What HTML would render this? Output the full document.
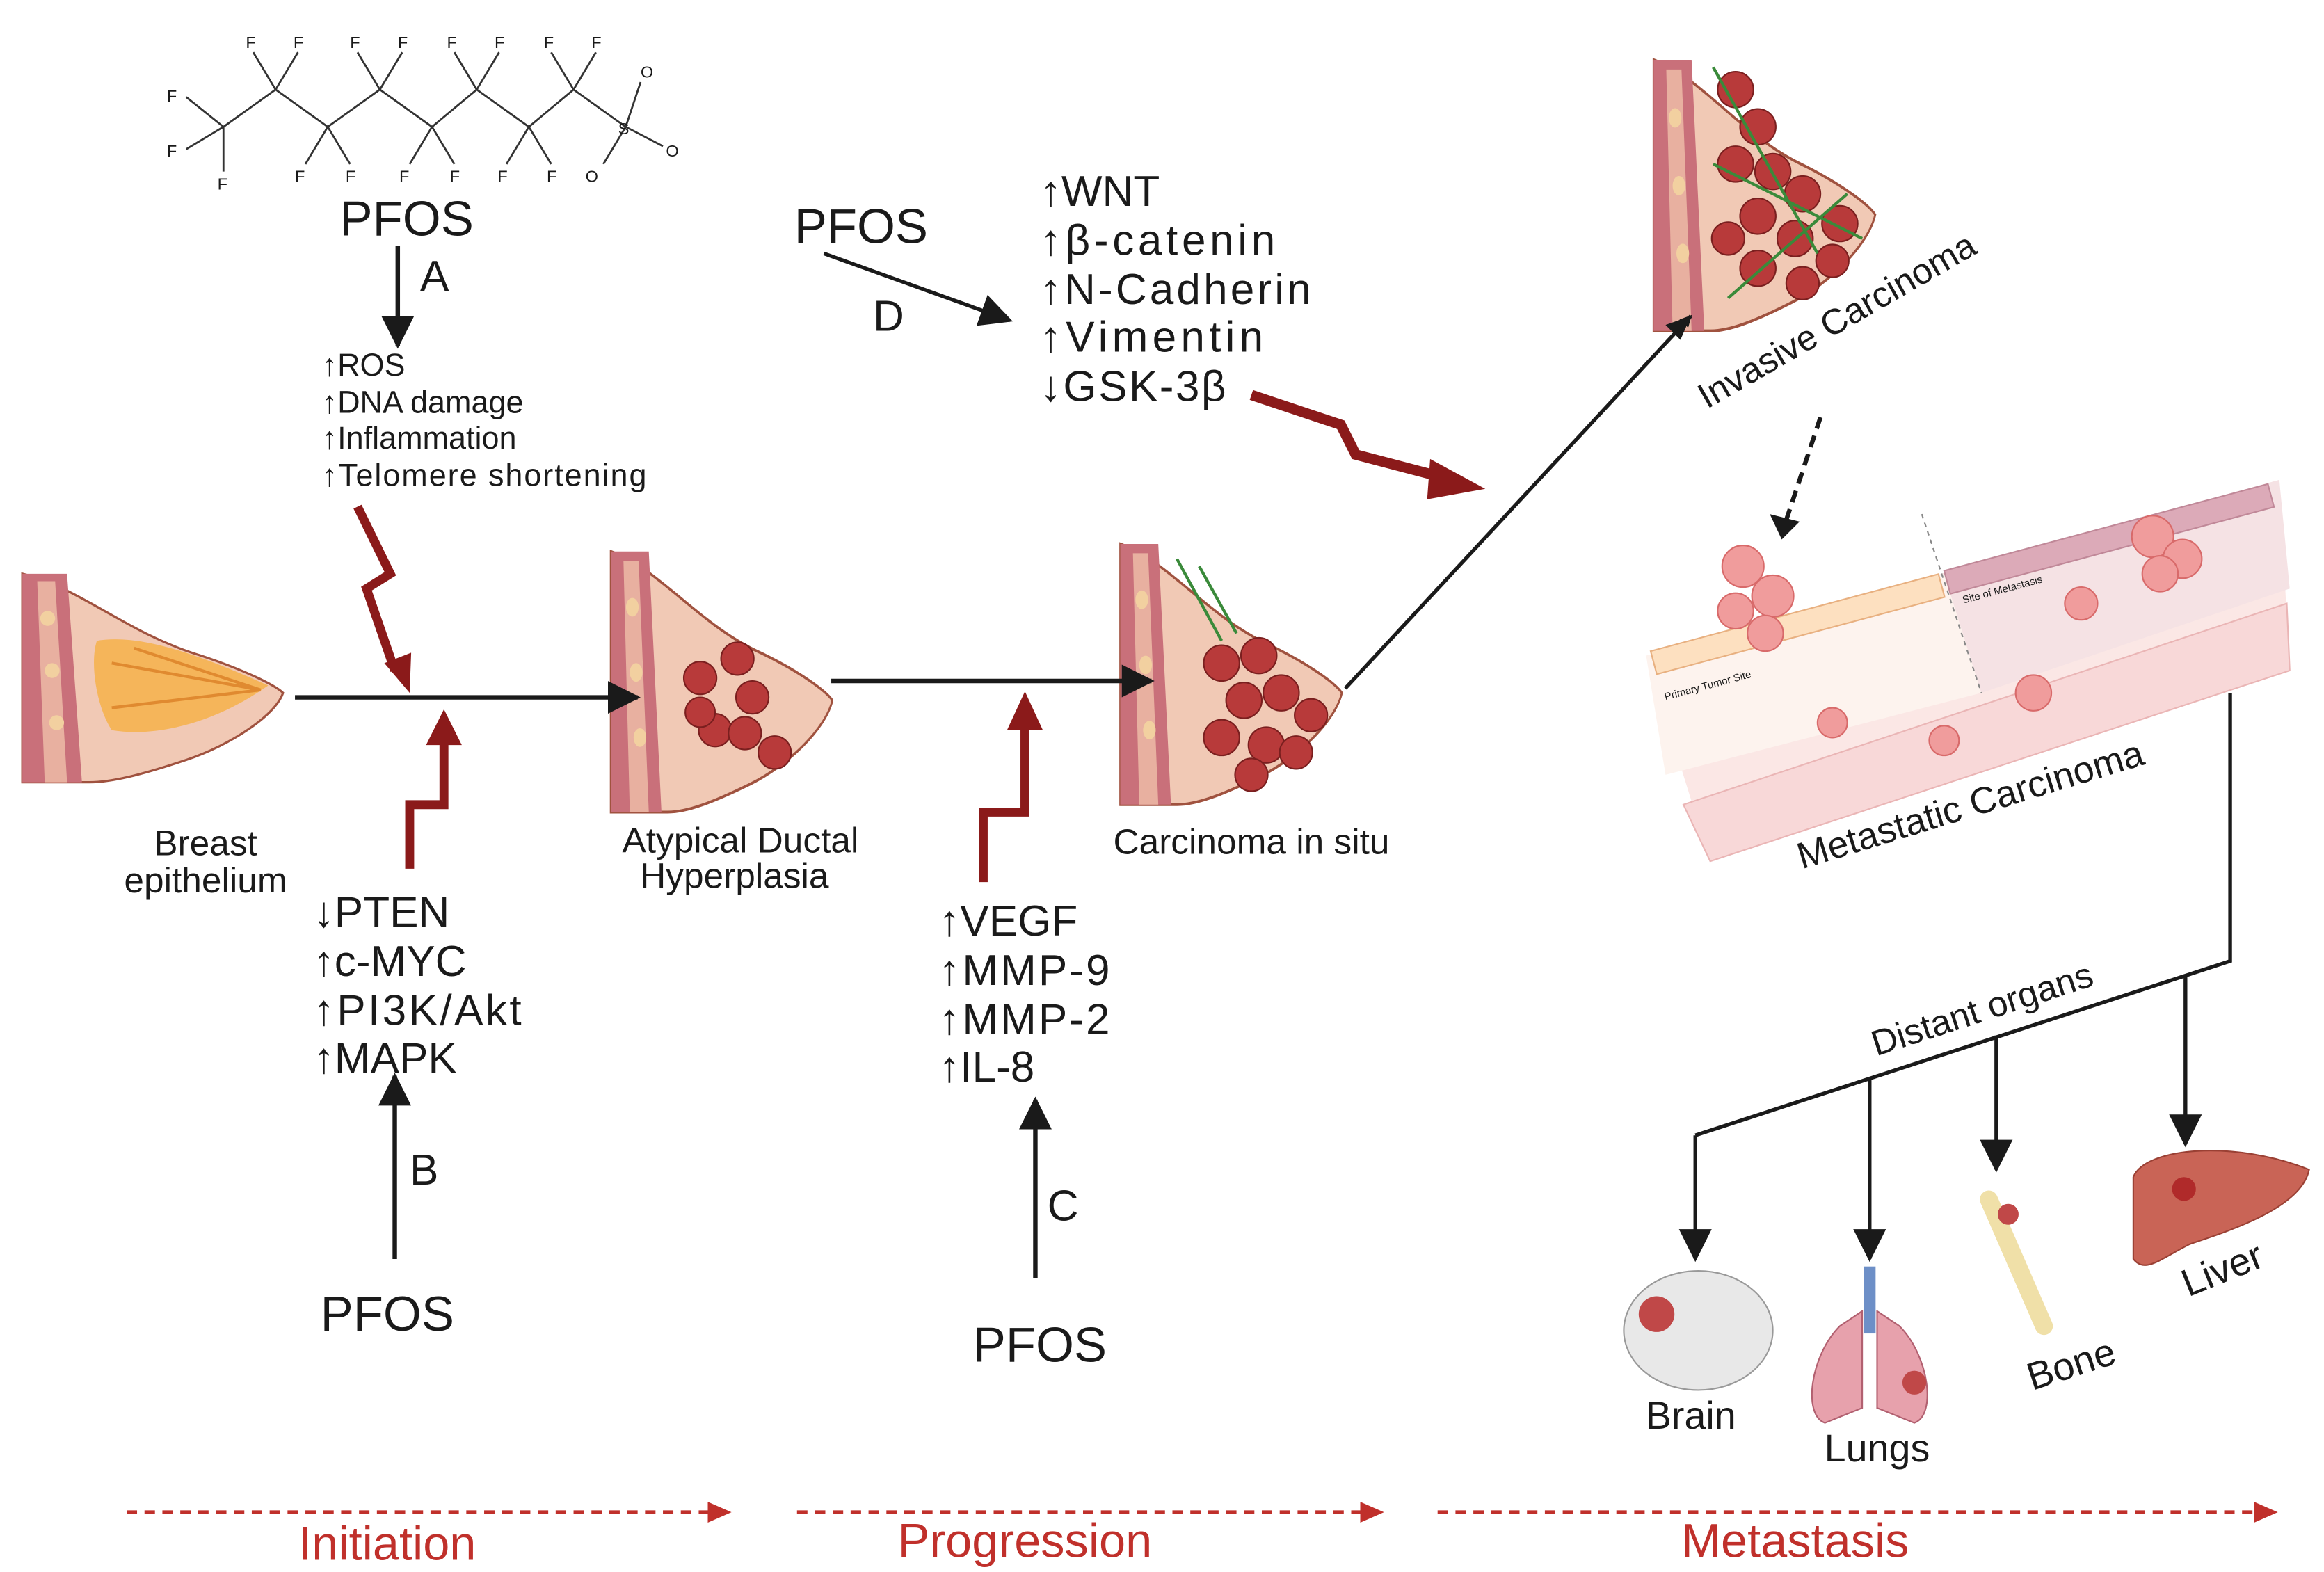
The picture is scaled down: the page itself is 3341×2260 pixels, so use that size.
<!DOCTYPE html>
<html><head><meta charset="utf-8"><style>
html,body{margin:0;padding:0;background:#fff}
svg{display:block}
text{font-family:"Liberation Sans",sans-serif;fill:#1a1a1a}
</style></head><body>
<svg width="3341" height="2260" viewBox="0 0 1560 1055" xmlns="http://www.w3.org/2000/svg">
<defs>
<marker id="ah" markerWidth="8" markerHeight="8" refX="7" refY="4" orient="auto" markerUnits="userSpaceOnUse"><path d="M0,0 L8,4 L0,8 z" fill="#1a1a1a"/></marker>
<marker id="ahb" markerWidth="22" markerHeight="22" refX="20" refY="11" orient="auto" markerUnits="userSpaceOnUse"><path d="M0,0 L22,11 L0,22 z" fill="#1a1a1a"/></marker>
<marker id="ahr" markerWidth="16" markerHeight="14" refX="15" refY="7" orient="auto" markerUnits="userSpaceOnUse"><path d="M0,0 L16,7 L0,14 z" fill="#c0302b"/></marker>
<g id="breast">
<path d="M0,0 C40,10 70,40 120,55 C150,65 170,75 175,80 C170,95 140,115 110,125 C80,135 60,140 45,140 L0,140 z" fill="#f1c9b5" stroke="#a0523f" stroke-width="1.5"/>
<path d="M0,0 L30,0 L40,140 L0,140 z" fill="#c9707a"/>
<path d="M10,5 L22,5 L30,140 L15,140 z" fill="#e8b0a0"/>
<circle cx="17" cy="30" r="5" fill="#f2d0a0"/><circle cx="20" cy="65" r="5" fill="#f2d0a0"/><circle cx="23" cy="100" r="5" fill="#f2d0a0"/>
</g>
</defs>

<!-- PFOS molecule -->
<g stroke="#333" stroke-width="1.3" fill="none">
<polyline points="150,85 185,60 220,85 255,60 290,85 320,60 355,85 385,60 420,85"/>
<line x1="150" y1="85" x2="125" y2="65"/><line x1="150" y1="85" x2="125" y2="100"/><line x1="150" y1="85" x2="150" y2="115"/>
<line x1="185" y1="60" x2="170" y2="35"/><line x1="185" y1="60" x2="200" y2="35"/>
<line x1="255" y1="60" x2="240" y2="35"/><line x1="255" y1="60" x2="270" y2="35"/>
<line x1="320" y1="60" x2="305" y2="35"/><line x1="320" y1="60" x2="335" y2="35"/>
<line x1="385" y1="60" x2="370" y2="35"/><line x1="385" y1="60" x2="400" y2="35"/>
<line x1="220" y1="85" x2="205" y2="110"/><line x1="220" y1="85" x2="235" y2="110"/>
<line x1="290" y1="85" x2="275" y2="110"/><line x1="290" y1="85" x2="305" y2="110"/>
<line x1="355" y1="85" x2="340" y2="110"/><line x1="355" y1="85" x2="370" y2="110"/>
<line x1="420" y1="85" x2="445" y2="98"/><line x1="420" y1="85" x2="430" y2="55"/><line x1="420" y1="85" x2="405" y2="110"/>
</g>
<g font-size="11" fill="#333">
<text x="112" y="68">F</text><text x="112" y="105">F</text><text x="146" y="127">F</text>
<text x="165" y="32">F</text><text x="197" y="32">F</text><text x="235" y="32">F</text><text x="267" y="32">F</text>
<text x="300" y="32">F</text><text x="332" y="32">F</text><text x="365" y="32">F</text><text x="397" y="32">F</text>
<text x="198" y="122">F</text><text x="232" y="122">F</text><text x="268" y="122">F</text><text x="302" y="122">F</text>
<text x="334" y="122">F</text><text x="367" y="122">F</text>
<text x="430" y="52">O</text><text x="447" y="105">O</text><text x="393" y="122">O</text><text x="415" y="90">S</text>
</g>

<text x="273" y="158" font-size="33" text-anchor="middle">PFOS</text>
<line x1="267" y1="165" x2="267" y2="232" stroke="#1a1a1a" stroke-width="3" marker-end="url(#ahb)"/>
<text x="282" y="195" font-size="29">A</text>
<g font-size="21"><text x="216" y="252">↑ROS</text><text x="216" y="277">↑DNA damage</text><text x="216" y="301">↑Inflammation</text><text x="216" y="326" textLength="218">↑Telomere shortening</text></g>
<path d="M240,340 L262,385 L246,395 L265,450" stroke="#8b1a1a" stroke-width="6" fill="none"/>
<path d="M258,445 L275,465 L276,438 z" fill="#8b1a1a"/>

<!-- breasts -->
<g transform="translate(15,385)"><use href="#breast"/>
<path d="M50,45 C80,40 120,55 165,75 C130,100 90,110 60,105 C50,90 45,60 50,45z" fill="#f5b55a"/>
<path d="M60,60 L160,78 M60,90 L160,78 M75,50 L160,78" stroke="#e08a30" stroke-width="2"/></g>
<g transform="translate(410,370) scale(0.85,1.25)"><use href="#breast"/></g>
<g fill="#b83a3a" stroke="#7a1f1f"><circle cx="470" cy="455" r="11"/><circle cx="495" cy="442" r="11"/><circle cx="505" cy="468" r="11"/><circle cx="480" cy="490" r="11"/><circle cx="500" cy="492" r="11"/><circle cx="520" cy="505" r="11"/><circle cx="470" cy="478" r="10"/></g>
<g transform="translate(752,365) scale(0.85,1.25)"><use href="#breast"/></g>
<g fill="#b83a3a" stroke="#7a1f1f"><circle cx="820" cy="445" r="12"/><circle cx="845" cy="440" r="12"/><circle cx="860" cy="465" r="12"/><circle cx="835" cy="470" r="12"/><circle cx="880" cy="480" r="11"/><circle cx="820" cy="495" r="12"/><circle cx="850" cy="500" r="12"/><circle cx="870" cy="505" r="11"/><circle cx="840" cy="520" r="11"/></g>
<path d="M790,375 L820,430 M805,380 L830,425" stroke="#3a8a3a" stroke-width="2"/>
<g transform="translate(1110,40) scale(0.85,1.3)"><use href="#breast"/></g>
<g fill="#b83a3a" stroke="#7a1f1f"><circle cx="1165" cy="60" r="12"/><circle cx="1180" cy="85" r="12"/><circle cx="1165" cy="110" r="12"/><circle cx="1190" cy="115" r="12"/><circle cx="1210" cy="130" r="12"/><circle cx="1235" cy="150" r="12"/><circle cx="1180" cy="145" r="12"/><circle cx="1205" cy="160" r="12"/><circle cx="1180" cy="180" r="12"/><circle cx="1210" cy="190" r="11"/><circle cx="1230" cy="175" r="11"/><circle cx="1160" cy="160" r="11"/></g>
<path d="M1150,45 L1220,170 M1160,200 L1240,130 M1150,110 L1250,160" stroke="#3a8a3a" stroke-width="2"/>

<text x="138" y="574" font-size="24" text-anchor="middle">Breast</text>
<text x="138" y="599" font-size="24" text-anchor="middle">epithelium</text>
<line x1="198" y1="468" x2="428" y2="468" stroke="#1a1a1a" stroke-width="3" marker-end="url(#ahb)"/>
<path d="M275,583 L275,540 L298,540 L298,498" stroke="#8b1a1a" stroke-width="6" fill="none"/>
<path d="M286,500 L298,476 L310,500 z" fill="#8b1a1a"/>
<g font-size="29"><text x="210" y="622">↓PTEN</text><text x="210" y="655">↑c-MYC</text><text x="210" y="688" textLength="140">↑PI3K/Akt</text><text x="210" y="720">↑MAPK</text></g>
<line x1="265" y1="845" x2="265" y2="722" stroke="#1a1a1a" stroke-width="3" marker-end="url(#ahb)"/>
<text x="275" y="795" font-size="29">B</text>
<text x="260" y="893" font-size="33" text-anchor="middle">PFOS</text>

<text x="497" y="572" font-size="24" text-anchor="middle">Atypical Ductal</text>
<text x="493" y="596" font-size="24" text-anchor="middle">Hyperplasia</text>
<line x1="558" y1="457" x2="773" y2="457" stroke="#1a1a1a" stroke-width="3" marker-end="url(#ahb)"/>
<path d="M660,592 L660,545 L688,545 L688,488" stroke="#8b1a1a" stroke-width="6" fill="none"/>
<path d="M676,490 L688,464 L700,490 z" fill="#8b1a1a"/>
<g font-size="29"><text x="630" y="628">↑VEGF</text><text x="630" y="661" textLength="115">↑MMP-9</text><text x="630" y="694" textLength="115">↑MMP-2</text><text x="630" y="726">↑IL-8</text></g>
<line x1="695" y1="858" x2="695" y2="738" stroke="#1a1a1a" stroke-width="3" marker-end="url(#ahb)"/>
<text x="703" y="819" font-size="29">C</text>
<text x="698" y="914" font-size="33" text-anchor="middle">PFOS</text>

<text x="840" y="573" font-size="24" text-anchor="middle">Carcinoma in situ</text>
<line x1="903" y1="462" x2="1135" y2="212" stroke="#1a1a1a" stroke-width="2.5" marker-end="url(#ah)"/>
<path d="M1135,212 L1118,218 L1128,228 z" fill="#1a1a1a"/>

<text x="578" y="163" font-size="33" text-anchor="middle">PFOS</text>
<line x1="553" y1="170" x2="678" y2="215" stroke="#1a1a1a" stroke-width="2.5" marker-end="url(#ahb)"/>
<text x="586" y="222" font-size="29">D</text>
<g font-size="29"><text x="698" y="138">↑WNT</text><text x="698" y="171" textLength="158">↑β-catenin</text><text x="698" y="204" textLength="182">↑N-Cadherin</text><text x="698" y="236" textLength="150">↑Vimentin</text><text x="698" y="269" textLength="125">↓GSK-3β</text></g>
<path d="M840,265 L900,285 L910,305 L975,322" stroke="#8b1a1a" stroke-width="7" fill="none"/>
<path d="M960,308 L997,328 L958,335 z" fill="#8b1a1a"/>

<text transform="translate(1237,222) rotate(-30)" font-size="24" text-anchor="middle">Invasive Carcinoma</text>
<line x1="1222" y1="280" x2="1198" y2="352" stroke="#1a1a1a" stroke-width="3" stroke-dasharray="8,5"/>
<path d="M1188,345 L1196,362 L1208,350 z" fill="#1a1a1a"/>

<!-- metastatic panel -->
<polygon points="1105,440 1530,322 1537,450 1148,578" fill="#fbe7e5"/>
<polygon points="1105,440 1305,385 1330,465 1118,520" fill="#fdf3ee"/>
<polygon points="1305,385 1530,322 1537,395 1330,465" fill="#f5e2e4"/>
<polygon points="1130,540 1535,405 1537,450 1148,578" fill="#f8d8d8" stroke="#eab5b5"/>
<g fill="#fde0c0" stroke="#e8b080"><rect x="1108" y="437" width="200" height="16" transform="rotate(-15 1108 437)"/></g>
<g fill="#dcaab8" stroke="#c08898"><rect x="1305" y="383" width="225" height="16" transform="rotate(-15 1305 383)"/></g>
<line x1="1290" y1="345" x2="1330" y2="465" stroke="#888" stroke-dasharray="3,3"/>
<text transform="translate(1118,470) rotate(-15)" font-size="7" fill="#b8862a">Primary Tumor Site</text>
<text transform="translate(1318,405) rotate(-15)" font-size="7" fill="#a0386a">Site of Metastasis</text>
<g fill="#f09c9c" stroke="#d86a6a"><circle cx="1170" cy="380" r="14"/><circle cx="1190" cy="400" r="14"/><circle cx="1165" cy="410" r="12"/><circle cx="1185" cy="425" r="12"/><circle cx="1230" cy="485" r="10"/><circle cx="1305" cy="497" r="10"/><circle cx="1365" cy="465" r="12"/><circle cx="1397" cy="405" r="11"/><circle cx="1445" cy="360" r="14"/><circle cx="1465" cy="375" r="13"/><circle cx="1450" cy="385" r="12"/></g>
<text transform="translate(1325,548) rotate(-17)" font-size="25" text-anchor="middle">Metastatic Carcinoma</text>

<polyline points="1497,465 1497,645 1138,762" stroke="#1a1a1a" stroke-width="2.5" fill="none"/>
<line x1="1138" y1="762" x2="1138" y2="845" stroke="#1a1a1a" stroke-width="2.5" marker-end="url(#ahb)"/>
<line x1="1255" y1="723" x2="1255" y2="845" stroke="#1a1a1a" stroke-width="2.5" marker-end="url(#ahb)"/>
<line x1="1340" y1="695" x2="1340" y2="785" stroke="#1a1a1a" stroke-width="2.5" marker-end="url(#ahb)"/>
<line x1="1467" y1="655" x2="1467" y2="768" stroke="#1a1a1a" stroke-width="2.5" marker-end="url(#ahb)"/>
<text transform="translate(1333,685) rotate(-18)" font-size="24" text-anchor="middle">Distant organs</text>

<!-- organs -->
<ellipse cx="1140" cy="893" rx="50" ry="40" fill="#e8e8e8" stroke="#999"/>
<circle cx="1112" cy="882" r="12" fill="#c04848"/>
<path d="M1235,890 C1215,910 1210,950 1225,955 L1250,945 L1250,880z M1275,890 C1295,910 1300,950 1285,955 L1260,945 L1260,880z" fill="#e7a1ac" stroke="#b26070"/>
<rect x="1251" y="850" width="8" height="45" fill="#6d8fc7"/>
<circle cx="1285" cy="928" r="8" fill="#c04848"/>
<path d="M1335,805 L1372,890" stroke="#f0e0a8" stroke-width="12" stroke-linecap="round"/>
<circle cx="1348" cy="815" r="7" fill="#c04848"/>
<path d="M1432,790 C1440,770 1500,765 1550,785 C1545,810 1500,825 1470,835 C1450,845 1440,855 1432,845z" fill="#c96456" stroke="#9a4034"/>
<circle cx="1466" cy="798" r="8" fill="#b02a2a"/>

<text x="1135" y="959" font-size="26" text-anchor="middle">Brain</text>
<text x="1260" y="981" font-size="26" text-anchor="middle">Lungs</text>
<text transform="translate(1393,924) rotate(-18)" font-size="26" text-anchor="middle">Bone</text>
<text transform="translate(1495,860) rotate(-22)" font-size="26" text-anchor="middle">Liver</text>

<!-- bottom -->
<g stroke="#c0302b" stroke-width="2.5" stroke-dasharray="7,5">
<line x1="85" y1="1015" x2="490" y2="1015" marker-end="url(#ahr)"/>
<line x1="535" y1="1015" x2="928" y2="1015" marker-end="url(#ahr)"/>
<line x1="965" y1="1015" x2="1528" y2="1015" marker-end="url(#ahr)"/>
</g>
<g font-size="32" text-anchor="middle">
<text x="260" y="1047" style="fill:#c0302b">Initiation</text>
<text x="688" y="1045" style="fill:#c0302b">Progression</text>
<text x="1205" y="1045" style="fill:#c0302b">Metastasis</text>
</g>
</svg>
</body></html>
